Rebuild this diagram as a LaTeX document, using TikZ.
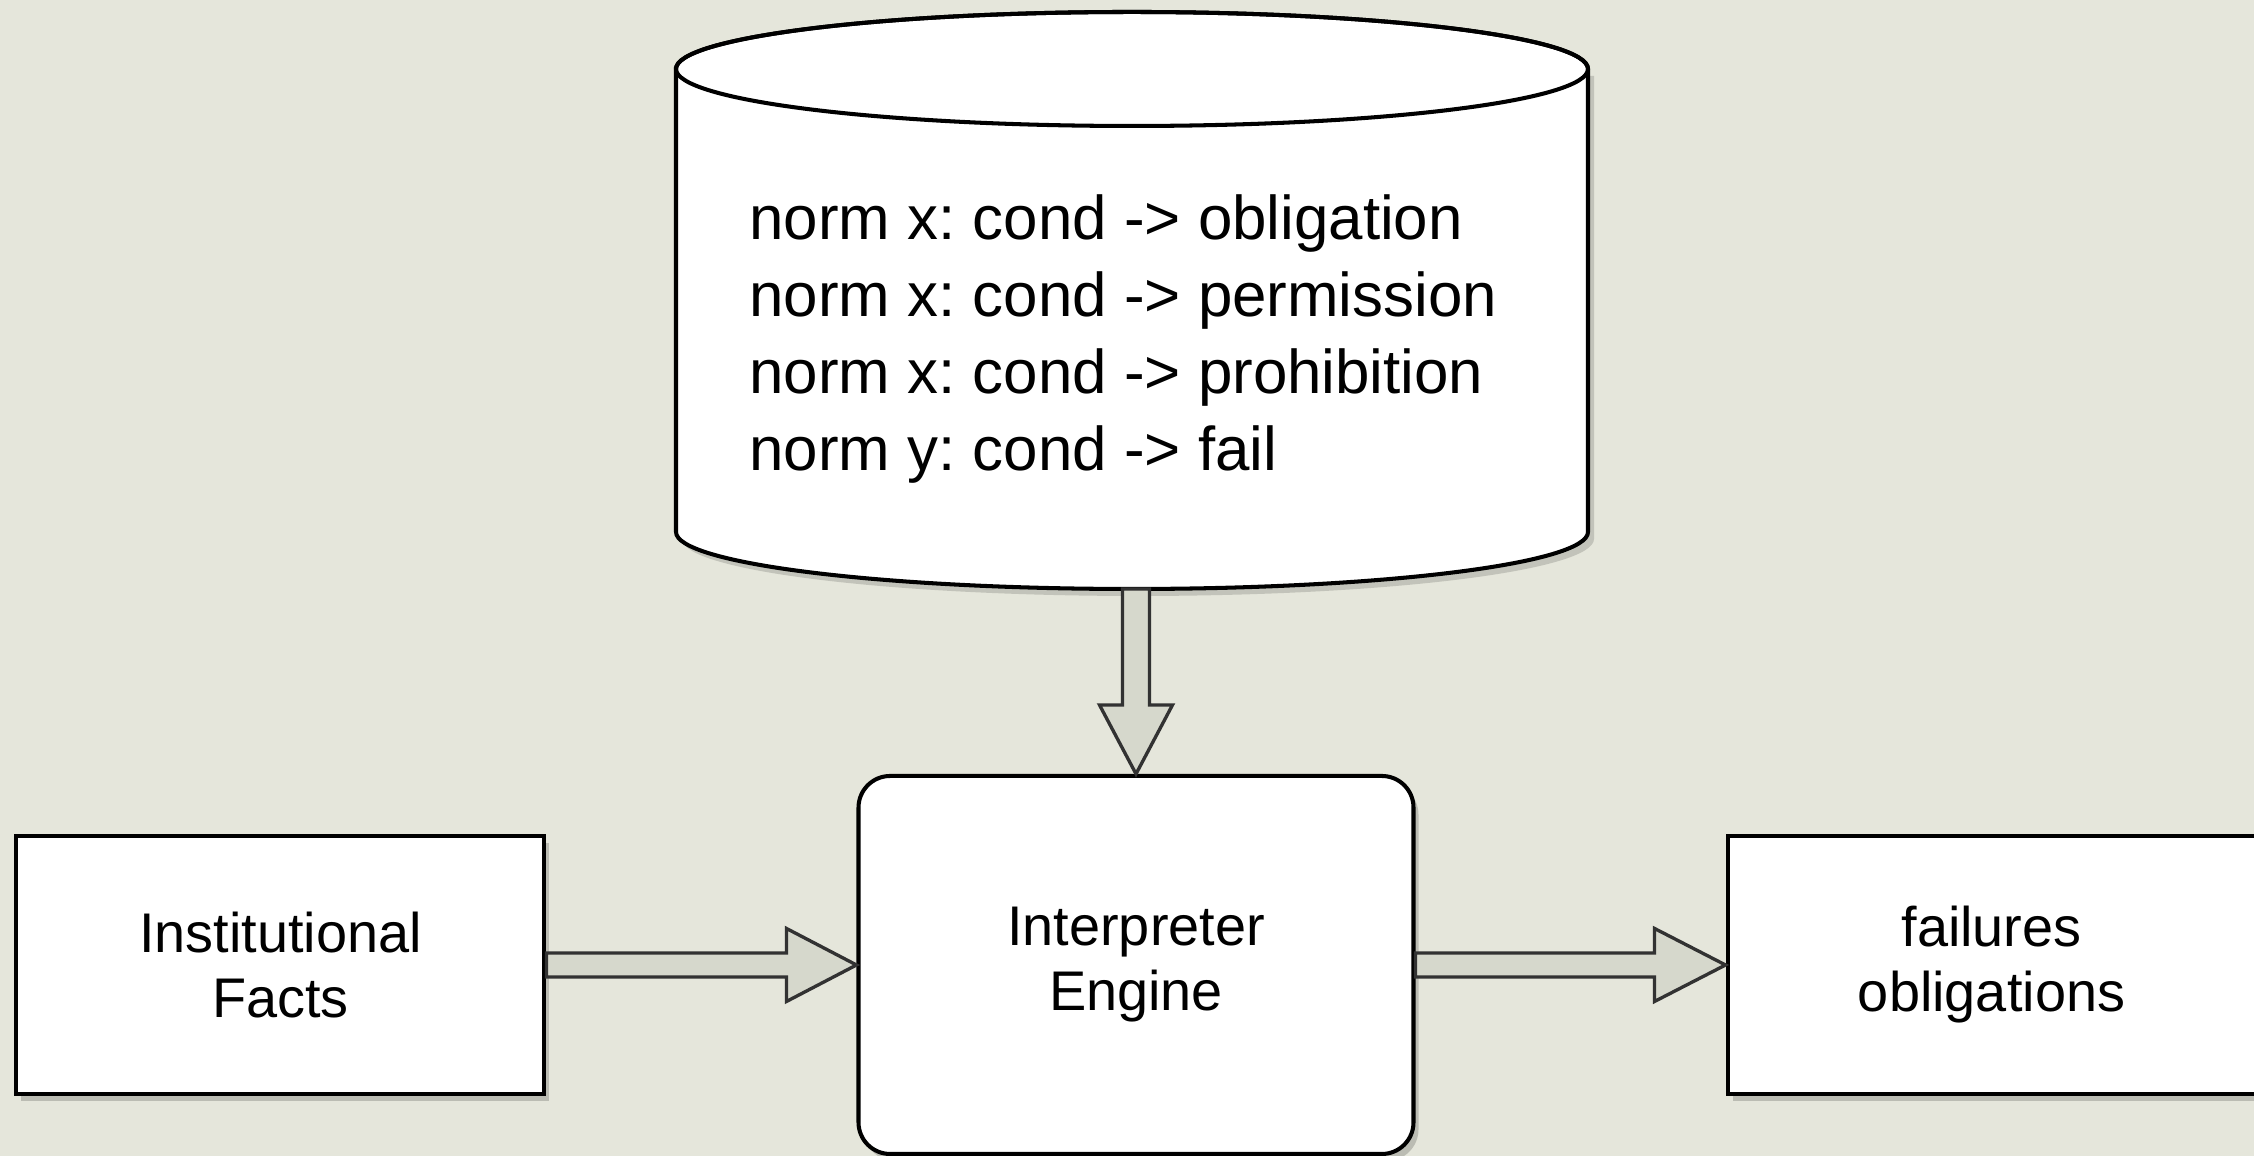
\documentclass[tikz,border=0pt]{standalone}
\usepackage{fontspec}
\setmainfont{Liberation Sans}
\usetikzlibrary{positioning, calc, shadows}

\definecolor{paper}{RGB}{229,230,219}
\definecolor{arrowfill}{RGB}{214,216,204}
\definecolor{arrowline}{RGB}{50,50,50}

\begin{document}
\frenchspacing
\begin{tikzpicture}[
  font=\fontsize{15.9}{18.5}\selectfont,
  box/.style={
    rectangle, draw=black, fill=white, line width=1.15pt,
    align=center, inner sep=4pt,
    drop shadow={shadow xshift=0.05cm, shadow yshift=-0.07cm,
                 opacity=0.18, fill=black},
  },
  blockarrow/.style={
    draw=arrowline, fill=arrowfill, line width=0.95pt, line join=miter,
  },
  rules/.style={font=\fontsize{17.6}{21.9}\selectfont, align=left},
]

% page
\fill[paper] (0,0) rectangle (22.54,11.56);
\useasboundingbox (0,0) rectangle (22.54,11.56);

% norm base
\fill[black, opacity=0.15] (6.82,10.80) -- (6.82,6.17)
  arc[start angle=180, end angle=360, x radius=4.56, y radius=0.57]
  -- (15.94,10.80) -- cycle;
\draw[fill=white, line width=1.15pt] (6.76,10.87) -- (6.76,6.24)
  arc[start angle=180, end angle=360, x radius=4.56, y radius=0.57]
  -- (15.88,10.87)
  arc[start angle=0, end angle=180, x radius=4.56, y radius=0.57] -- cycle;
\draw[line width=1.15pt] (11.32,10.87) ellipse [x radius=4.56, y radius=0.57];

\node[rules, anchor=west] (normlist) at (7.37,8.17) {%
  norm x: cond -> obligation\\
  norm x: cond -> permission\\
  norm x: cond -> prohibition\\
  norm y: cond -> fail};

% engine and its inputs / outputs
\node[box, rounded corners=9pt, minimum width=5.55cm, minimum height=3.78cm]
  (engine) at (11.36,1.91) {Interpreter\\Engine};
\node[box, minimum width=5.28cm, minimum height=2.58cm, left=3.1cm of engine]
  (facts) {Institutional\\Facts};
\node[box, minimum width=5.28cm, minimum height=2.58cm, right=3.1cm of engine]
  (fails) {failures\\obligations};
\coordinate (dbbot) at (engine.north |- 0,5.67);

% block arrows
\draw[blockarrow] ($(dbbot)+(-0.135,0)$) -- ($(engine.north)+(-0.135,0.69)$)
  -- ($(engine.north)+(-0.365,0.69)$) -- (engine.north)
  -- ($(engine.north)+(0.365,0.69)$) -- ($(engine.north)+(0.135,0.69)$)
  -- ($(dbbot)+(0.135,0)$) -- cycle;
\draw[blockarrow] ($(facts.east)+(0,0.12)$) -- ($(engine.west)+(-0.70,0.12)$)
  -- ($(engine.west)+(-0.70,0.365)$) -- (engine.west)
  -- ($(engine.west)+(-0.70,-0.365)$) -- ($(engine.west)+(-0.70,-0.12)$)
  -- ($(facts.east)+(0,-0.12)$) -- cycle;
\draw[blockarrow] ($(engine.east)+(0,0.12)$) -- ($(fails.west)+(-0.71,0.12)$)
  -- ($(fails.west)+(-0.71,0.365)$) -- (fails.west)
  -- ($(fails.west)+(-0.71,-0.365)$) -- ($(fails.west)+(-0.71,-0.12)$)
  -- ($(engine.east)+(0,-0.12)$) -- cycle;

\end{tikzpicture}
\end{document}
